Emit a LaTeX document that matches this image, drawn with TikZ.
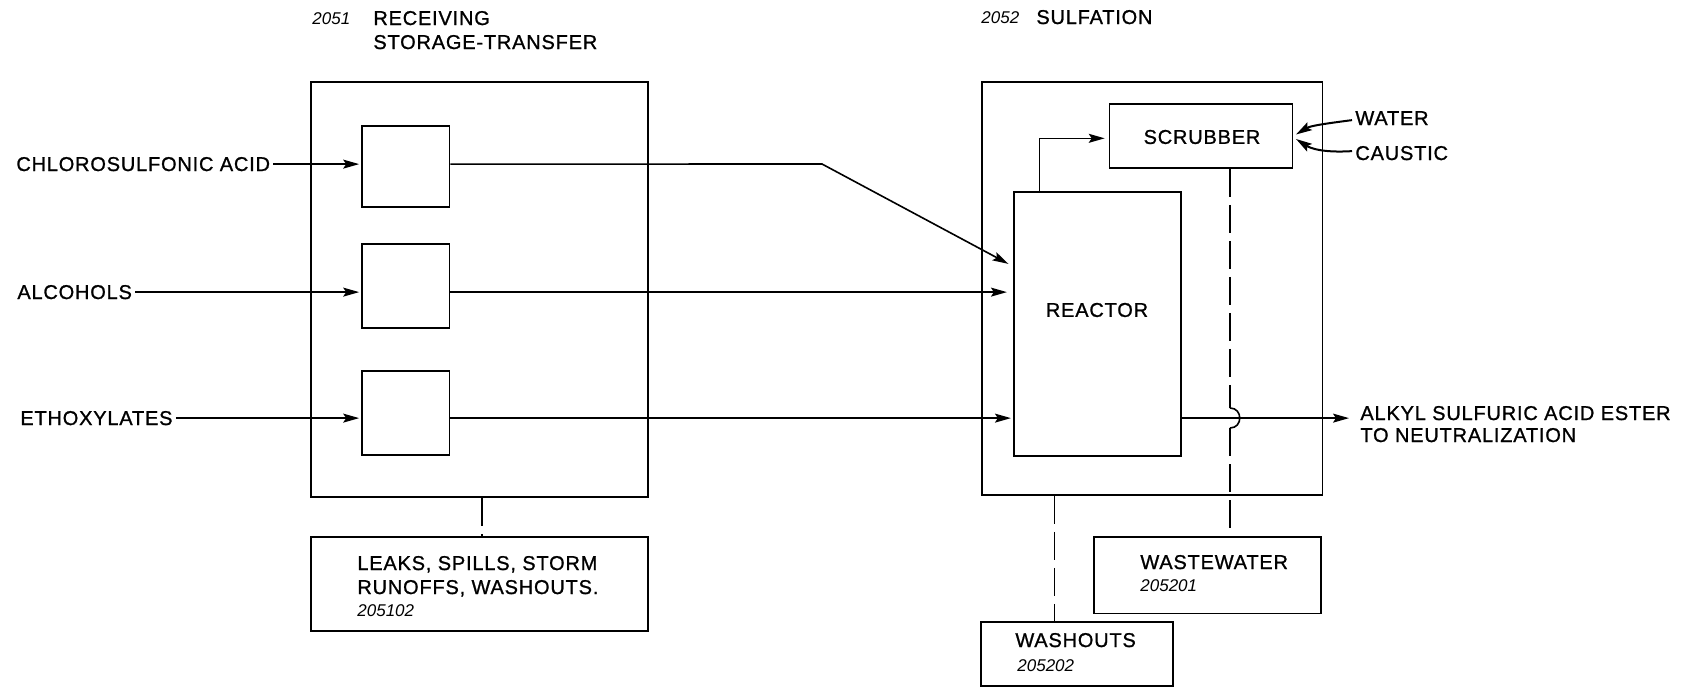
\documentclass[tikz,border=0pt]{standalone}
\usepackage{fontspec}
\newfontfamily\labfont{Liberation Sans}[LetterSpace=4.0,FakeBold=1.0]
\newfontfamily\numfont{Liberation Sans}
\usetikzlibrary{arrows.meta,fit}
\tikzset{
  box/.style={draw, line width=0.8pt, inner sep=0pt},
  lbl/.style={font=\labfont\fontsize{10}{12}\selectfont, inner sep=0pt},
  num/.style={font=\numfont\itshape\fontsize{8.5}{10}\selectfont, inner sep=0pt},
  flow/.style={line width=0.8pt, -{Stealth[length=8pt,width=4.5pt,inset=1.5pt]}},
  plain/.style={line width=0.8pt},
  leak/.style={line width=0.8pt, dash pattern=on 14pt off 4pt}
}
\begin{document}
\begin{tikzpicture}[x=0.5pt,y=-0.5pt]
\useasboundingbox (0,0) rectangle (1701,687);

% headers
\node[num, anchor=base west] (n2051) at (312,24) {2051};
\node[lbl, anchor=base west] (h2051a) at (373,25) {RECEIVING};
\node[lbl, anchor=base west] (h2051b) at (373,49) {STORAGE-TRANSFER};
\node[num, anchor=base west] (n2052) at (981,23) {2052};
\node[lbl, anchor=base west] (h2052) at (1036,24) {SULFATION};

% left group
\node[box, fit={(311,82) (648,497)}] (recv) {};
\node[box, fit={(362,126) (449.6,207)}] (b1) {};
\node[box, fit={(362,244) (449.6,328)}] (b2) {};
\node[box, fit={(362,371) (449.6,455)}] (b3) {};
\node[box, fit={(311,537) (648,631)}] (leaks) {};
\node[lbl, anchor=base west] (leaks1) at (357,570) {LEAKS, SPILLS, STORM};
\node[lbl, anchor=base west] (leaks2) at (357,594) {RUNOFFS, WASHOUTS.};
\node[num, anchor=base west] (n205102) at (357,616) {205102};

% inputs
\node[lbl, anchor=base west] (chloro) at (16,171) {CHLOROSULFONIC ACID};
\node[lbl, anchor=base west] (alc) at (17,299) {ALCOHOLS};
\node[lbl, anchor=base west] (etho) at (20,425) {ETHOXYLATES};

% right group
\node[box, fit={(982,82) (1322.5,495)}] (sulf) {};
\node[box, fit={(1109.5,104) (1292.4,168)}] (scrub) {};
\node[lbl, anchor=center] (scrubt) at (1202,137) {SCRUBBER};
\node[box, fit={(1013.7,191.7) (1180.8,456)}] (reactor) {};
\node[lbl, anchor=center] (reactt) at (1097,310) {REACTOR};
\node[box, fit={(1093.7,536.7) (1321,613.3)}] (wastew) {};
\node[lbl, anchor=base west] (wwt) at (1140,569) {WASTEWATER};
\node[num, anchor=base west] (n205201) at (1140,591) {205201};
\node[box, fit={(981,621.7) (1173,686)}] (washb) {};
\node[lbl, anchor=base west] (wst) at (1015,647) {WASHOUTS};
\node[num, anchor=base west] (n205202) at (1017,671) {205202};

\node[lbl, anchor=base west] (water) at (1355,125) {WATER};
\node[lbl, anchor=base west] (caustic) at (1355,160) {CAUSTIC};
\node[lbl, anchor=base west] (alkyl1) at (1360,420) {ALKYL SULFURIC ACID ESTER};
\node[lbl, anchor=base west] (alkyl2) at (1360,442) {TO NEUTRALIZATION};

% coordinates
\coordinate (k1) at (822,164);
\coordinate (rin1) at (1013.7,266.7);
\coordinate (rs) at (1039.6,0);
\coordinate (sy) at (0,138.3);
\coordinate (sinw) at (1296,134.5);
\coordinate (sinc) at (1296,139);
\coordinate (out) at (1349,0);
\coordinate (lk) at (482,0);
\coordinate (wx) at (1054.4,0);
\coordinate (dx) at (1230,0);
\coordinate (hopa) at (1230,408);
\coordinate (hopb) at (1230,428);

% input arrows
\draw[flow, shorten <=1.5pt, shorten >=1pt] (chloro.east) -- (chloro.east -| b1.west);
\draw[flow, shorten <=1.5pt, shorten >=1pt] (alc.east) -- (alc.east -| b2.west);
\draw[flow, shorten <=1.5pt, shorten >=1pt] (etho.east) -- (etho.east -| b3.west);

% to reactor
\draw[flow, shorten >=3pt] (chloro.east -| b1.east) -- (k1) -- (rin1);
\draw[flow, shorten >=3pt] (alc.east -| b2.east) -- (alc.east -| reactor.west);
\draw[flow, shorten >=1pt] (etho.east -| b3.east) -- (etho.east -| reactor.west);

% reactor to scrubber
\draw[flow, shorten >=2pt] (reactor.north -| rs) |- (scrub.west |- sy);

% water / caustic
\draw[flow, line width=1pt] ([xshift=-1.5pt,yshift=-1pt]water.west) .. controls (1322,124) and (1310,126) .. (sinw);
\draw[flow, line width=1pt] ([xshift=-1.5pt,yshift=1pt]caustic.west) .. controls (1322,153) and (1310,148) .. (sinc);

% output
\draw[flow] (etho.east -| reactor.east) -- (etho.east -| out);

% dashed connectors
\draw[leak] (recv.south -| lk) -- (leaks.north -| lk);
\draw[leak] (sulf.south -| wx) -- (washb.north -| wx);
\draw[leak] (scrub.south -| dx) -- (hopa);
\draw[plain] (hopa) .. controls (1243,408) and (1243,428) .. (hopb);
\draw[leak] (hopb) -- (wastew.north -| dx);
\end{tikzpicture}
\end{document}
